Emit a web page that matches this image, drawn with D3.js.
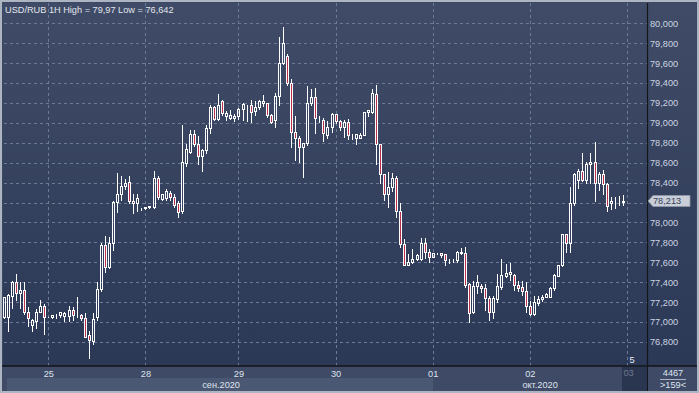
<!DOCTYPE html>
<html><head><meta charset="utf-8">
<script src="https://cdn.jsdelivr.net/npm/d3@7"></script>
<style>html,body{margin:0;padding:0;background:#b4bac6;overflow:hidden}svg{display:block}</style>
</head><body><svg id="c" width="699" height="393"></svg>
<script>
// ---- data (USD/RUB, 1H candles, 24 Sep – 02 Oct 2020) ----
const openP = [77.054,77.054,77.264,77.401,77.291,77.324,77.106,76.971,77.011,77.106,77.159,77.054,77.048,77.068,77.068,77.064,77.064,77.121,77.078,77.071,77.040,76.872,76.815,77.054,77.335,77.774,77.550,77.791,78.209,78.283,78.367,78.410,78.219,78.193,78.143,78.143,78.153,78.159,78.444,78.233,78.249,78.299,78.259,78.193,78.119,78.601,78.705,78.890,78.785,78.668,78.728,78.952,79.157,79.036,79.222,79.069,79.052,79.045,79.069,79.136,79.180,79.180,79.120,79.157,79.197,79.197,79.079,79.029,79.270,79.598,79.672,79.404,78.912,78.845,78.761,78.795,79.197,79.257,79.036,79.029,78.878,78.962,79.086,79.022,78.956,79.006,78.885,78.852,78.852,78.882,79.113,79.113,79.290,78.785,78.484,78.283,78.360,78.450,78.119,77.784,77.573,77.600,77.630,77.630,77.791,77.707,77.657,77.697,77.697,77.683,77.623,77.625,77.623,77.707,77.690,77.380,77.098,77.366,77.366,77.340,77.239,77.106,77.229,77.356,77.463,77.480,77.473,77.373,77.350,77.316,77.165,77.078,77.195,77.229,77.255,77.255,77.340,77.463,77.573,77.882,77.791,78.199,78.427,78.514,78.427,78.584,78.611,78.394,78.484,78.387,78.199,78.226,78.226,78.210];
const highP = [77.260,77.289,77.424,77.497,77.416,77.414,77.159,77.040,77.140,77.229,77.193,77.060,77.075,77.088,77.114,77.114,77.171,77.159,77.262,77.088,77.106,76.922,77.106,77.416,77.807,77.875,77.865,78.226,78.510,78.477,78.444,78.477,78.293,78.293,78.159,78.165,78.170,78.527,78.477,78.293,78.343,78.326,78.296,78.226,78.989,78.801,78.940,78.940,78.878,78.745,78.986,79.190,79.180,79.303,79.236,79.129,79.136,79.102,79.163,79.213,79.190,79.243,79.230,79.236,79.290,79.213,79.096,79.313,79.872,79.970,79.699,79.448,79.079,78.878,78.801,79.381,79.347,79.357,79.079,79.056,79.029,79.106,79.096,79.036,79.036,79.046,78.895,78.895,78.912,79.113,79.140,79.347,79.392,78.801,78.494,78.520,78.510,78.477,78.209,77.841,77.690,77.747,77.696,77.858,77.858,77.740,77.707,77.700,77.707,77.697,77.640,77.640,77.724,77.757,77.767,77.406,77.423,77.483,77.390,77.390,77.272,77.272,77.496,77.647,77.597,77.607,77.490,77.423,77.423,77.414,77.222,77.272,77.272,77.282,77.299,77.363,77.490,77.580,77.892,77.892,78.367,78.510,78.548,78.711,78.617,78.711,78.823,78.520,78.534,78.410,78.266,78.266,78.276,78.286];
const lowP = [77.040,76.913,77.140,77.222,77.140,77.082,76.958,76.913,76.944,77.100,76.882,77.050,77.045,77.038,77.054,77.014,77.014,77.021,77.054,77.021,76.855,76.642,76.782,77.021,77.310,77.506,77.540,77.724,78.109,78.226,78.333,78.193,78.092,78.119,78.126,78.140,78.150,78.143,78.233,78.226,78.226,78.226,78.156,78.052,78.092,78.567,78.699,78.768,78.584,78.520,78.699,78.902,79.030,79.029,79.079,79.029,79.036,79.022,79.036,79.029,79.022,79.012,79.079,79.136,79.170,79.062,78.996,78.956,79.180,79.590,79.381,78.761,78.628,78.611,78.454,78.775,79.180,78.902,79.012,78.821,78.845,78.912,79.002,78.929,78.862,78.835,78.835,78.785,78.845,78.875,79.072,79.100,78.590,78.394,78.226,78.159,78.317,78.059,77.757,77.573,77.573,77.593,77.620,77.623,77.640,77.603,77.650,77.680,77.657,77.573,77.597,77.600,77.606,77.683,77.356,77.004,77.088,77.289,77.306,77.122,77.021,77.040,77.205,77.329,77.449,77.423,77.322,77.315,77.272,77.106,77.071,77.070,77.172,77.215,77.249,77.249,77.322,77.460,77.563,77.707,77.707,78.176,78.343,78.413,78.394,78.394,78.219,78.326,78.286,78.119,78.133,78.143,78.176,78.176];
const closeP = [77.255,77.272,77.401,77.291,77.324,77.106,77.040,77.018,77.106,77.163,77.048,77.054,77.068,77.068,77.101,77.094,77.121,77.071,77.078,77.040,76.855,76.822,77.030,77.335,77.774,77.550,77.791,78.209,78.283,78.367,78.394,78.219,78.193,78.243,78.143,78.159,78.166,78.444,78.259,78.283,78.319,78.253,78.176,78.109,78.611,78.735,78.890,78.788,78.668,78.728,78.952,79.157,79.036,79.180,79.096,79.096,79.079,79.072,79.136,79.190,79.180,79.113,79.157,79.220,79.220,79.079,79.012,79.270,79.598,79.799,79.404,78.912,78.845,78.761,78.795,79.197,79.257,79.046,79.036,78.895,78.962,79.086,79.022,78.956,79.006,78.878,78.885,78.885,78.882,79.106,79.130,79.300,78.785,78.484,78.283,78.360,78.450,78.119,77.784,77.573,77.606,77.630,77.673,77.791,77.707,77.657,77.697,77.697,77.673,77.623,77.623,77.625,77.707,77.690,77.373,77.088,77.366,77.406,77.340,77.239,77.106,77.239,77.363,77.473,77.490,77.506,77.373,77.340,77.316,77.165,77.078,77.199,77.229,77.255,77.282,77.340,77.473,77.573,77.882,77.791,78.199,78.484,78.514,78.427,78.584,78.611,78.394,78.484,78.387,78.166,78.219,78.226,78.226,78.213];

const dayLabels = ["25","28","29","30","01","02","03"];
const dayStartIdx = [11,35,58,82,106,130,154];
const monthLabels = ["сен.2020","окт.2020"];
const monthStartIdx = [-1,106];
const yTicks = [76.8,77.0,77.2,77.4,77.6,77.8,78.0,78.2,78.4,78.6,78.8,79.0,79.2,79.4,79.6,79.8,80.0];
const titleText = "USD/RUB 1H High = 79,97 Low = 76,642";
const lastPrice = 78.213;
const barCountText = "4467";
const visibleText = ">159<";

// ---- layout ----
const W = 699, H = 393;
const plot = {l:3, t:3, r:647, b:366};
const svg = d3.select("#c");
const FONT = "'Liberation Sans', Arial, sans-serif";

const x = d3.scaleLinear().domain([0, 154]).range([4.3, 627.4]);
const y = d3.scaleLinear().domain([76.8, 80.0]).range([342.0, 23.3]);
const fmt = v => d3.format(".3f")(v).replace(/^(\d\d)/, "$1,").replace(".", "");

const defs = svg.append("defs");
const g1 = defs.append("linearGradient").attr("id","bg").attr("gradientUnits","userSpaceOnUse")
  .attr("x1",0).attr("y1",0).attr("x2",0).attr("y2",366);
g1.append("stop").attr("offset","0").attr("stop-color","#404c67");
g1.append("stop").attr("offset","1").attr("stop-color","#2b3856");
defs.append("clipPath").attr("id","pc").append("rect")
  .attr("x",plot.l).attr("y",plot.t).attr("width",plot.r-plot.l).attr("height",plot.b-plot.t);

// frame
svg.append("rect").attr("width",W).attr("height",H).attr("fill","#aeb5c2");
svg.append("rect").attr("x",2).attr("y",2).attr("width",W-4).attr("height",H-4).attr("fill","#3c4864");
svg.append("rect").attr("x",plot.l).attr("y",plot.t).attr("width",W-3-plot.l).attr("height",plot.b-plot.t).attr("fill","url(#bg)");

// horizontal grid
const grid = svg.append("g").attr("shape-rendering","crispEdges");
grid.selectAll("line.h").data(yTicks).join("line")
  .attr("x1",plot.l+1).attr("x2",plot.r)
  .attr("y1",d=>Math.round(y(d))+0.5).attr("y2",d=>Math.round(y(d))+0.5)
  .attr("stroke","#6d7a95").attr("stroke-dasharray","3,3");
grid.selectAll("line.v").data(dayStartIdx).join("line")
  .attr("x1",d=>Math.floor(x(d))+0.5).attr("x2",d=>Math.floor(x(d))+0.5)
  .attr("y1",plot.t).attr("y2",plot.b)
  .attr("stroke","#6d7a95").attr("stroke-dasharray","3,3");

// candles
const data = openP.map((o,i)=>({i, o, h:highP[i], l:lowP[i], c:closeP[i]}));
const cg = svg.append("g").attr("clip-path","url(#pc)").attr("shape-rendering","crispEdges");
const cx = d => Math.floor(x(d.i)) + 0.5;
const py = v => Math.round(y(v)) + 0.5;
const cand = cg.selectAll("g").data(data).join("g");
cand.append("line").attr("x1",cx).attr("x2",cx)
  .attr("y1",d=>py(d.h)).attr("y2",d=>py(Math.max(d.o,d.c)))
  .attr("stroke","#ffffff");
cand.append("line").attr("x1",cx).attr("x2",cx)
  .attr("y1",d=>py(Math.min(d.o,d.c))).attr("y2",d=>py(d.l))
  .attr("stroke","#ffffff");
cand.append("rect")
  .attr("x",d=>cx(d)-1).attr("width",2)
  .attr("y",d=>py(Math.max(d.o,d.c)))
  .attr("height",d=>Math.max(0, py(Math.min(d.o,d.c)) - py(Math.max(d.o,d.c))))
  .attr("fill",d=>d.c < d.o ? "#b9304f" : "none")
  .attr("stroke","#ffffff").attr("stroke-width",1);

// title
svg.append("text").attr("x",5).attr("y",12.7).text(titleText)
  .attr("font-family",FONT).attr("font-size",9.2).attr("fill","#e2e6ee");

// right axis
svg.append("line").attr("x1",647.5).attr("x2",647.5).attr("y1",plot.t).attr("y2",plot.b)
  .attr("stroke","#14161c").attr("stroke-width",1.2);
const ly = Math.round(y(lastPrice));
svg.append("g").selectAll("text").data(yTicks.filter(t=>Math.abs(y(t)-ly)>8)).join("text")
  .attr("x",650).attr("y",d=>y(d)+3.4).text(d=>fmt(d))
  .attr("font-family",FONT).attr("font-size",9.2).attr("fill","#cdd4e2");
// last price marker
svg.append("path")
  .attr("d",`M648,${ly} L653,${ly-5.5} L690,${ly-5.5} L690,${ly+5.5} L653,${ly+5.5} Z`)
  .attr("fill","#c8cdd7").attr("stroke","#8f98aa").attr("stroke-width",0.8);
svg.append("text").attr("x",653).attr("y",ly+3.4).text(fmt(lastPrice))
  .attr("font-family",FONT).attr("font-size",9.2).attr("fill","#36415a");

// bottom axis
svg.append("rect").attr("x",2).attr("y",366).attr("width",W-4).attr("height",25).attr("fill","#3e4a66");
svg.append("rect").attr("x",7).attr("y",378).attr("width",Math.floor(x(monthStartIdx[1]))-7).attr("height",13).attr("fill","#4b5874");
svg.append("line").attr("x1",2).attr("x2",W-2).attr("y1",366).attr("y2",366).attr("stroke","#121418").attr("stroke-width",1.5);
svg.append("rect").attr("x",622).attr("y",367).attr("width",25).attr("height",24).attr("fill","#2a3550");
svg.append("line").attr("x1",647.5).attr("x2",647.5).attr("y1",366).attr("y2",391).attr("stroke","#14161c");
svg.append("g").selectAll("text").data(dayLabels.slice(0,6)).join("text")
  .attr("x",(d,i)=>x(dayStartIdx[i])).attr("y",376.7).attr("text-anchor","middle").text(d=>d)
  .attr("font-family",FONT).attr("font-size",9.2).attr("fill","#dfe4ee");
svg.append("text").attr("x",x(dayStartIdx[6])-4).attr("y",376).text(dayLabels[6])
  .attr("font-family",FONT).attr("font-size",9.2).attr("fill","#6f7a90");
const mCenters = [(3 + x(monthStartIdx[1]))/2 + 3, (x(monthStartIdx[1]) + 647)/2];
svg.append("g").selectAll("text").data(monthLabels).join("text")
  .attr("x",(d,i)=>mCenters[i]).attr("y",387.5).attr("text-anchor","middle").text(d=>d)
  .attr("font-family",FONT).attr("font-size",9.2).attr("fill","#dfe4ee");
svg.append("text").attr("x",673).attr("y",376.2).attr("text-anchor","middle").text(barCountText)
  .attr("font-family",FONT).attr("font-size",9.2).attr("fill","#dfe4ee");
svg.append("line").attr("x1",660).attr("x2",686).attr("y1",379.5).attr("y2",379.5).attr("stroke","#aab3c4");
svg.append("text").attr("x",673).attr("y",388.3).attr("text-anchor","middle").text(visibleText)
  .attr("font-family",FONT).attr("font-size",9.2).attr("fill","#dfe4ee");
svg.append("text").attr("x",629.5).attr("y",363.3).text("5")
  .attr("font-family",FONT).attr("font-size",9.2).attr("fill","#e8ecf3");
</script></body></html>
